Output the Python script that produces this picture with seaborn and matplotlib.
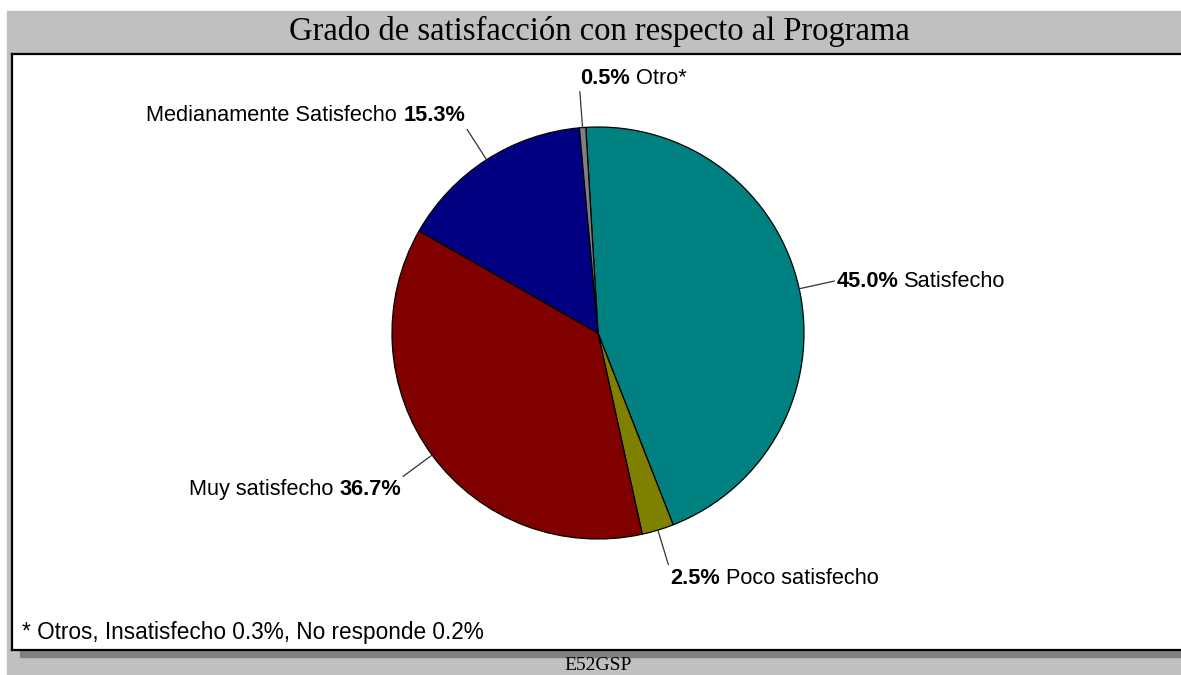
import numpy as np
import matplotlib.pyplot as plt
import seaborn as sns
from matplotlib.patches import Rectangle

# datos
categorias = ["Satisfecho", "Poco satisfecho", "Muy satisfecho",
              "Medianamente Satisfecho", "Otro*"]
porcentajes = [45.0, 2.5, 36.7, 15.3, 0.5]
colores = ["#008080", "#808000", "#800000", "#000080", "#808080"]
pct_primero = [True, True, False, False, True]
titulo = "Grado de satisfacción con respecto al Programa"
nota = "* Otros, Insatisfecho 0.3%, No responde 0.2%"
codigo = "E52GSP"

# alineacion de cada etiqueta
ha_lbl = ["left", "left", "right", "right", "left"]
va_lbl = ["center", "top", "top", "bottom", "bottom"]

sns.set_style("white")
plt.rcParams['font.family'] = ['Liberation Sans', 'DejaVu Sans']
plt.rcParams['text.color'] = 'black'

W, H = 1181, 675
fig = plt.figure(figsize=(W / 100, H / 100), dpi=100)
fig.patch.set_facecolor("white")

# marco gris y sombra
fig.add_artist(Rectangle((7 / W, 0), 1, (H - 11) / H, transform=fig.transFigure,
                         color="#c0c0c0", zorder=0))
fig.add_artist(Rectangle((20 / W, 18 / H), 1, 7 / H, transform=fig.transFigure,
                         color="#808080", zorder=0))

ax = fig.add_axes([12 / W, 25 / H, (W - 12) / W, 596 / H])
ax.set_facecolor("white")

cx, cy, r = 598, 342, 206
wedges, _ = ax.pie(porcentajes, colors=colores, startangle=93.4, counterclock=False,
                   center=(cx, cy), radius=r, frame=True,
                   wedgeprops=dict(edgecolor="black", linewidth=0.9))
ax.set_xlim(12, W)
ax.set_ylim(25, 621)
ax.set_aspect("auto")
ax.set_xticks([])
ax.set_yticks([])
for s in ["top", "bottom", "left"]:
    ax.spines[s].set_color("black")
    ax.spines[s].set_linewidth(1.6)
ax.spines["right"].set_visible(False)

fs = 15.7
for w, cat, pct, first, ha, va in zip(wedges, categorias, porcentajes, pct_primero, ha_lbl, va_lbl):
    ang = np.deg2rad((w.theta1 + w.theta2) / 2)
    x0, y0 = cx + r * np.cos(ang), cy + r * np.sin(ang)
    x1, y1 = cx + 1.175 * r * np.cos(ang), cy + 1.175 * r * np.sin(ang)
    ax.plot([x0, x1], [y0, y1], color="#333333", lw=0.9)
    tx = x1 + (2 if ha == "left" else -2)
    ty = y1 + {"center": 0, "top": -3, "bottom": 3}[va]
    if cat == "Otro*":
        tx = x1
    t1 = ax.text(tx, ty, f"{pct:.1f}%", fontsize=fs, fontweight="bold", ha=ha, va=va)
    if first:
        ax.annotate(cat, xy=(1, 0), xycoords=t1, xytext=(4.3, 0), textcoords="offset points",
                    fontsize=fs, ha="left", va="bottom")
    else:
        ax.annotate(cat, xy=(0, 0), xycoords=t1, xytext=(-4.3, 0), textcoords="offset points",
                    fontsize=fs, ha="right", va="bottom")

ax.text(22, 43, nota, fontsize=16.3, ha="left", va="center")

fig.text(599.5 / W, 1 - 31 / H, titulo, fontsize=23.5, family="Liberation Serif",
         ha="center", va="center")
fig.text(598 / W, 1 - 665 / H, codigo, fontsize=14, family="Liberation Serif",
         ha="center", va="center")

fig.savefig("out.png", dpi=100)
